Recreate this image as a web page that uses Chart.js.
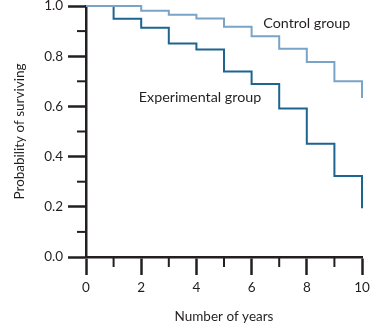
<!DOCTYPE html>
<html>
<head>
<meta charset="utf-8">
<script src="https://cdn.jsdelivr.net/npm/chart.js@4"></script>
<style>
  html, body { margin: 0; padding: 0; background: #fff; }
  #wrap { width: 371px; height: 325px; }
</style>
</head>
<body>
<div id="wrap"><canvas id="myChart"></canvas></div>
<script>
// data
const years = [0, 1, 2, 3, 4, 5, 6, 7, 8, 9, 10];
const controlGroup = [1.0, 1.0, 0.981, 0.965, 0.95, 0.917, 0.879, 0.83, 0.777, 0.70, 0.633];
const experimentalGroup = [1.0, 0.949, 0.913, 0.851, 0.827, 0.739, 0.689, 0.592, 0.451, 0.323, 0.194];
const minorX = [1, 3, 5, 7, 9];
const minorY = [0.1, 0.3, 0.5, 0.7, 0.9];
const seriesLabels = [
  { text: 'Control group', x: 8.0, y: 0.93 },
  { text: 'Experimental group', x: 4.13, y: 0.634 }
];

const INK = '#231f20';
const FONT = 'Lato, "Open Sans", sans-serif';

// minor ticks + line labels
const extras = {
  id: 'extras',
  afterDraw(chart) {
    const c = chart.ctx;
    const xs = chart.scales.x, ys = chart.scales.y;
    c.save();
    c.strokeStyle = INK;
    c.lineWidth = 2;
    minorX.forEach(v => {
      const px = xs.getPixelForValue(v);
      c.beginPath();
      c.moveTo(px, ys.bottom);
      c.lineTo(px, ys.bottom + 10);
      c.stroke();
    });
    minorY.forEach(v => {
      const py = ys.getPixelForValue(v);
      c.beginPath();
      c.moveTo(xs.left, py);
      c.lineTo(xs.left - 9, py);
      c.stroke();
    });
    c.fillStyle = INK;
    c.font = '14.3px ' + FONT;
    c.textAlign = 'center';
    c.textBaseline = 'middle';
    seriesLabels.forEach(l => {
      c.fillText(l.text, xs.getPixelForValue(l.x), ys.getPixelForValue(l.y));
    });
    c.restore();
  }
};

const ctx = document.getElementById('myChart').getContext('2d');
const chart = new Chart(ctx, {
  type: 'line',
  data: {
    datasets: [
      {
        label: 'Control group',
        data: years.map((x, i) => ({ x: x, y: controlGroup[i] })),
        borderColor: '#7aa3c8',
        borderWidth: 2,
        stepped: 'before',
        pointRadius: 0,
        fill: false,
        clip: false
      },
      {
        label: 'Experimental group',
        data: years.map((x, i) => ({ x: x, y: experimentalGroup[i] })),
        borderColor: '#1d6590',
        borderWidth: 2,
        stepped: 'before',
        pointRadius: 0,
        fill: false,
        clip: false
      }
    ]
  },
  options: {
    responsive: true,
    maintainAspectRatio: false,
    animation: false,
    layout: { padding: { top: 6, right: 9, left: 0, bottom: 0 } },
    plugins: {
      legend: { display: false },
      tooltip: { enabled: false }
    },
    scales: {
      x: {
        type: 'linear',
        min: 0,
        max: 10,
        afterFit: s => { s.height = 68; s.paddingLeft = 0; s.paddingRight = 0; },
        border: { color: INK, width: 2.5 },
        grid: { drawOnChartArea: false, drawTicks: true, tickLength: 18, tickColor: INK, tickWidth: 2.5 },
        ticks: { stepSize: 2, color: INK, padding: 5, font: { family: FONT, size: 13.5 } },
        title: { display: true, text: 'Number of years', color: INK, padding: { top: 0, bottom: 0 }, font: { family: FONT, size: 13.5 } }
      },
      y: {
        min: 0,
        max: 1,
        afterFit: s => { s.width = 86; s.paddingTop = 0; s.paddingBottom = 0; },
        border: { color: INK, width: 2.5 },
        grid: { drawOnChartArea: false, drawTicks: true, tickLength: 18, tickColor: INK, tickWidth: 2.5 },
        ticks: { stepSize: 0.2, color: INK, padding: 5, callback: v => v.toFixed(1), font: { family: FONT, size: 13.5 } },
        title: { display: true, text: 'Probability of surviving', color: INK, padding: { top: 12, bottom: 0 }, font: { family: FONT, size: 13.5 } }
      }
    }
  },
  plugins: [extras]
});
</script>
</body>
</html>
